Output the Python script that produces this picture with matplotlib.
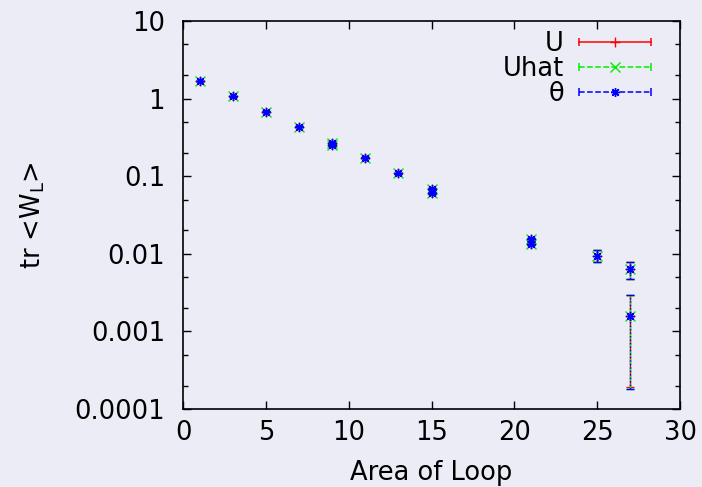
import numpy as np
import matplotlib
matplotlib.use('Agg')
import matplotlib.pyplot as plt
from matplotlib.lines import Line2D
from matplotlib.legend_handler import HandlerBase
from matplotlib.ticker import LogLocator, NullFormatter, FixedLocator

# loop areas (two loop shapes share some areas)
area = [1, 3, 5, 7, 9, 9, 11, 13, 15, 15, 21, 21, 25, 27, 27]

# trace of Wilson loop for each link variable, with errors
w_U = [1.69, 1.07, 0.678, 0.432, 0.266, 0.252, 0.173, 0.109, 0.0686, 0.0602,
       0.0154, 0.0134, 0.0095, 0.0063, 0.00157]
e_U = [0.02, 0.012, 0.008, 0.006, 0.004, 0.004, 0.003, 0.002, 0.0015, 0.0015,
       0.0006, 0.0006, 0.0016, 0.0015, 0.00138]

w_Uhat = [1.69, 1.07, 0.678, 0.431, 0.265, 0.251, 0.173, 0.109, 0.0685, 0.0601,
          0.0154, 0.0135, 0.0095, 0.0063, 0.00156]
e_Uhat = [0.02, 0.012, 0.008, 0.006, 0.004, 0.004, 0.003, 0.002, 0.0015, 0.0015,
          0.0006, 0.0006, 0.0016, 0.0015, 0.00138]

w_theta = [1.69, 1.07, 0.679, 0.432, 0.266, 0.252, 0.173, 0.109, 0.0684, 0.0602,
           0.0153, 0.0134, 0.0095, 0.0063, 0.00156]
e_theta = [0.02, 0.012, 0.008, 0.006, 0.004, 0.004, 0.003, 0.002, 0.0015, 0.0015,
           0.0006, 0.0006, 0.0016, 0.0015, 0.00138]

bg = '#ececf6'
asterisk = (8, 2, 0)
fs = 18.5

series = [
    ('U', w_U, e_U, '#ff0000', '-', '+'),
    ('Uhat', w_Uhat, e_Uhat, '#00ee00', (0, (4, 2)), 'x'),
    ('\u03b8', w_theta, e_theta, '#0000ff', (0, (1, 1.5)), asterisk),
]


class HandlerHErr(HandlerBase):
    # horizontal line with end caps and a marker in the middle
    def create_artists(self, legend, orig, xdescent, ydescent, width, height,
                       fontsize, trans):
        y = height / 2 - ydescent
        x0, x1 = -xdescent, width - xdescent
        c = orig.get_color()
        line = Line2D([x0, x1], [y, y], color=c, linestyle=orig.get_linestyle(), lw=1.1)
        caps = Line2D([x0, x1], [y, y], color=c, linestyle='none', marker='|',
                      markersize=6, markeredgewidth=1.1)
        mid = Line2D([(x0 + x1) / 2], [y], color=c, linestyle='none',
                     marker=orig.get_marker(), markersize=6.5, markeredgewidth=1.0)
        for a in (line, caps, mid):
            a.set_transform(trans)
        return [line, caps, mid]


fig = plt.figure(figsize=(7.02, 4.87), dpi=100, facecolor=bg)
ax = fig.add_axes([0.2607, 0.1602, 0.708, 0.7967])
ax.set_facecolor(bg)

handles = []
for label, w, e, col, ls, mk in series:
    eb = ax.errorbar(area, w, yerr=e, fmt='none', ecolor=col, elinewidth=1.0,
                     capsize=3, capthick=1.0)
    eb[2][0].set_linestyle(ls)
    ax.plot(area, w, linestyle='none', marker=mk, color=col, markersize=6.5,
            markeredgewidth=1.0)
    handles.append(Line2D([], [], color=col, linestyle=ls, marker=mk, label=label))

ax.set_yscale('log')
ax.set_ylim(1e-4, 10)
ax.set_xlim(0, 30)
ax.xaxis.set_major_locator(FixedLocator([0, 5, 10, 15, 20, 25, 30]))
ax.yaxis.set_major_locator(FixedLocator([1e-4, 1e-3, 1e-2, 1e-1, 1, 10]))
ax.set_yticklabels(['0.0001', '0.001', '0.01', '0.1', '1', '10'])
ax.yaxis.set_minor_locator(LogLocator(base=10, subs=(2, 5)))
ax.yaxis.set_minor_formatter(NullFormatter())

ax.tick_params(which='both', direction='in', top=True, right=True,
               labelsize=fs, colors='black', width=1.0)
ax.tick_params(axis='y', which='major', length=6, pad=13)
ax.tick_params(axis='y', which='minor', length=3.5)
ax.tick_params(axis='x', which='major', length=6, pad=8)
for s in ax.spines.values():
    s.set_linewidth(1.2)

ax.set_xlabel('Area of Loop', fontsize=fs, labelpad=10)
ax.set_ylabel(r'tr <W$_\mathregular{L}$>', fontsize=fs, labelpad=20)

ax.legend(handles=handles, loc='upper right', frameon=False, markerfirst=False,
          fontsize=fs, handlelength=2.8, handletextpad=0.6, labelspacing=-0.05,
          borderaxespad=0.0, bbox_to_anchor=(0.963, 1.0),
          handler_map={Line2D: HandlerHErr()})

fig.savefig('out.png', dpi=100, facecolor=bg)
